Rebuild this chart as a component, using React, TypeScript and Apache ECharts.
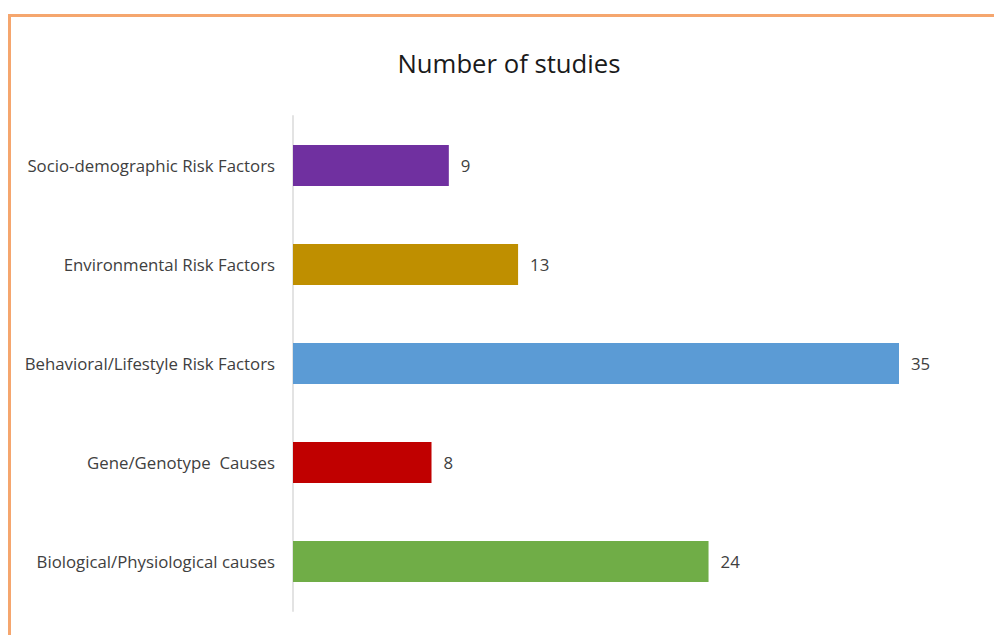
import React, { useEffect, useRef } from "react";
import * as echarts from "echarts";

const categories = [
  "Biological/Physiological causes",
  "Gene/Genotype  Causes",
  "Behavioral/Lifestyle Risk Factors",
  "Environmental Risk Factors",
  "Socio-demographic Risk Factors",
];
const values = [24, 8, 35, 13, 9];
const colors = ["#70AD47", "#C00000", "#5B9BD5", "#BF8F00", "#7030A0"];
const titleText = "Number of studies";

const FONT = "'Open Sans', sans-serif";

export default function App() {
  const ref = useRef<HTMLDivElement>(null);
  useEffect(() => {
    if (!ref.current) return;
    const chart = echarts.init(ref.current, null, { renderer: "svg" });
    chart.setOption({
      animation: false,
      backgroundColor: "#ffffff",
      title: {
        text: titleText,
        left: 504,
        top: 45,
        textAlign: "center",
        textStyle: { fontFamily: FONT, fontSize: 25.7, fontWeight: "normal", color: "#1a1a1a" },
      },
      grid: { left: 293, top: 116, width: 606, height: 495, containLabel: false },
      xAxis: {
        type: "value",
        min: 0,
        max: 35,
        show: false,
      },
      yAxis: {
        type: "category",
        data: categories,
        axisLine: { show: true, lineStyle: { color: "#e3e3e3", width: 2 } },
        axisTick: { show: false },
        axisLabel: { fontFamily: FONT, fontSize: 16.8, color: "#404040", margin: 18 },
        splitLine: { show: false },
      },
      series: [
        {
          type: "bar",
          data: values.map((v, i) => ({ value: v, itemStyle: { color: colors[i] } })),
          barWidth: 41,
          label: {
            show: true,
            position: "right",
            distance: 12,
            fontFamily: FONT,
            fontSize: 16.8,
            color: "#404040",
          },
        },
      ],
      graphic: [
        { type: "line", shape: { x1: 8, y1: 15.5, x2: 994, y2: 15.5 }, style: { stroke: "#F5A66E", lineWidth: 3 } },
        { type: "line", shape: { x1: 9.5, y1: 14, x2: 9.5, y2: 635 }, style: { stroke: "#F5A66E", lineWidth: 3 } },
      ],
    });
    return () => chart.dispose();
  }, []);
  return (
    <div
      ref={ref}
      style={{ position: "absolute", left: 0, top: 0, width: 994, height: 635 }}
    />
  );
}
